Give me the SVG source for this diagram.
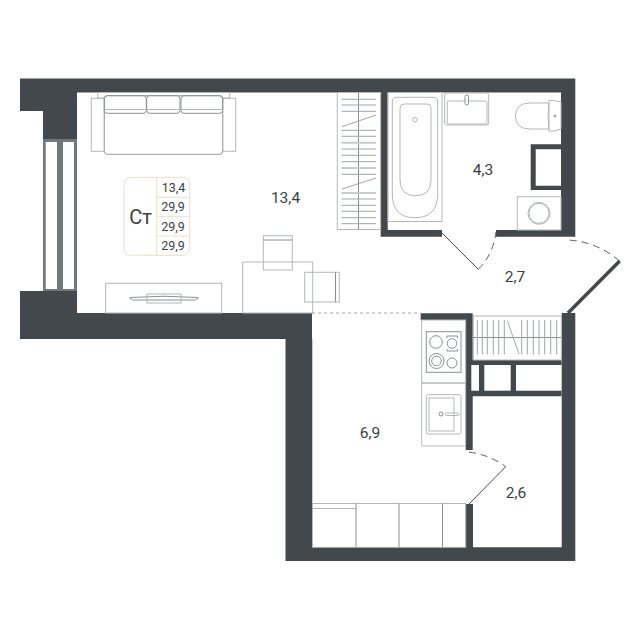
<svg xmlns="http://www.w3.org/2000/svg" width="640" height="640" viewBox="0 0 640 640">
<style>
.wall{fill:#43484c}
.f{fill:none;stroke:#b4b7b9;stroke-width:1}
.g{fill:none;stroke:#8b9094;stroke-width:1}
.d{fill:none;stroke:#4a4f53;stroke-width:1}
.ds{fill:none;stroke:#5a5f63;stroke-width:1;stroke-dasharray:7 5}
.ln{fill:none;stroke:#a2a6a9;stroke-width:1}
.lt{fill:none;stroke:#c9cccd;stroke-width:2}
.c{fill:none;stroke:#efdcc9;stroke-width:1}
text{font-family:"Roboto","Liberation Sans",sans-serif;fill:#3a3f43;text-anchor:middle}
.r{font-size:15.5px}
.s{font-size:12.5px}
</style>
<rect width="640" height="640" fill="#fff"/>
<g id="walls">
<path class="wall" fill-rule="evenodd" d="M20 78.5H575.3V236.7H496V230H561V92.5H387.7V230H442V236.7H380.7V92.5H77V313H312V339H312.3V547.3H465.7V504H473V547.3H561.7V313H575.3V561H285.5V339H20V291H43V139H43V111H20Z"/>
<path class="wall" d="M530.7 144.3H561V149.3H535.7V185.7H561V190H530.7Z"/>
<path class="wall" d="M420.7 313.3H472.7V360H561.5V396.3H472.7V450H465.7V320H420.7Z"/>
<rect x="471.3" y="365" width="7.7" height="25.7" fill="#fff"/>
<rect x="484.3" y="365" width="26.4" height="25.7" fill="#fff"/>
<rect x="516" y="365" width="45.5" height="25.7" fill="#fff"/>
<rect x="43" y="139" width="34" height="152" fill="#6f787c"/>
<rect x="45.7" y="142" width="11.3" height="147" fill="#fff"/>
<rect x="63" y="142" width="11" height="147" fill="#fff"/>
</g>
<g id="sofa">
<rect class="f" x="97.7" y="92.5" width="132" height="5.5"/>
<rect class="f" x="91.3" y="98.3" width="13" height="53"/>
<rect class="f" x="222.7" y="98.3" width="13" height="53"/>
<rect x="104.3" y="95.7" width="118.4" height="58.6" rx="3" fill="#fff" stroke="#9a9ea1"/>
<rect class="g" x="104.3" y="95.7" width="42" height="17.6" rx="3"/>
<rect class="g" x="146.7" y="95.7" width="33.3" height="17.6" rx="3"/>
<rect class="g" x="181" y="95.7" width="41.7" height="17.6" rx="3"/>
<path class="f" d="M104.3 109.5H222.7"/>
</g>
<g id="area-table">
<rect class="c" x="124" y="177.3" width="65.7" height="78" rx="7"/>
<path class="c" d="M156.7 177.3V255.3M156.7 197.3H189.7M156.7 216.3H189.7M156.7 236H189.7"/>
<text x="140.5" y="224" font-size="20">Ст</text>
<text class="s" x="173.5" y="191.5">13,4</text>
<text class="s" x="173" y="210.5">29,9</text>
<text class="s" x="173" y="230.5">29,9</text>
<text class="s" x="173" y="249.5">29,9</text>
</g>
<g id="tv">
<rect class="f" x="105.7" y="283.3" width="116" height="29.7"/>
<path class="g" d="M130 297.5Q164 295 198 297.5Q198 299 195 300H133Q130 299 130 297.5Z"/>
<rect class="f" x="147" y="294" width="34" height="9"/>
</g>
<g id="desk">
<rect class="f" x="242.7" y="262" width="70" height="51"/>
<rect class="f" x="263.3" y="235.7" width="29" height="34.3"/>
<path class="g" d="M263.3 240H292.3"/>
<rect class="f" x="304.7" y="272.3" width="34.6" height="29.7"/>
<path class="g" d="M335.5 272.3V302"/>
</g>
<g id="closet-upper">
<rect class="f" x="337.3" y="92.5" width="43.4" height="137"/>
<path class="g" d="M358.5 92.5V229.5"/>
<path class="ln" d="M341.5 99.3H376M341.5 105H376M341.5 111.3H376M342 126.7L376 115M341.5 130.3H376M341.5 136.3H376M341.5 149H376M341.5 155.3H376M341.5 161.7H376M341.5 174.3H376M342 189L376 178M341.5 199H376M341.5 205.3H376M341.5 211.3H376M341.5 217.7H376M341.5 223.7H376"/>
<path class="lt" d="M341.5 142.7H376M341.5 168H376M341.5 193H376"/>
</g>
<g id="bath">
<rect class="f" x="388" y="92.5" width="54" height="129"/>
<path class="f" d="M397 97.3H433Q437.7 97.3 437.7 102V194Q437.7 217.7 415 217.7Q392.3 217.7 392.3 194V102Q392.3 97.3 397 97.3Z"/>
<path class="f" d="M404 104H427Q431 104 431 108V180Q431 195.7 415.5 195.7Q400 195.7 400 180V108Q400 104 404 104Z"/>
<circle class="f" cx="415" cy="119.7" r="2.3"/>
</g>
<g id="sink">
<rect class="f" x="444.7" y="93" width="44" height="32" rx="2"/>
<rect class="f" x="447.3" y="101" width="39.7" height="23" rx="1"/>
<rect x="465" y="95" width="3.5" height="10" rx="1.7" fill="#fff" stroke="#8b9094"/>
</g>
<g id="toilet">
<path class="f" d="M549 103H530Q515.5 103 515.5 116Q515.5 129 530 129H549Z"/>
<path class="f" d="M549 100.5Q552 100 561 102V129Q552 132 549 131Q547 116 549 100.5Z"/>
<circle class="g" cx="555" cy="116" r="1"/>
</g>
<g id="washer">
<rect class="f" x="517.3" y="196.7" width="43.7" height="33.3"/>
<circle class="f" cx="539" cy="213.3" r="11"/>
<circle class="f" cx="539" cy="213.3" r="10"/>
</g>
<g id="closet-lower">
<rect class="f" x="473.3" y="316" width="88" height="44"/>
<path class="g" d="M473.3 337.5H561"/>
<path class="ln" d="M477.3 320V354.5M482.3 320V354.5M487.3 320V354.5M493.3 320V354.5M498.7 320V354.5M504.3 320V354.5M507.3 320.7L519 354.3M521.7 320V354.5M527.3 320V354.5M533.3 320V354.5M539 320V354.5M544.7 320V354.5M550.7 320V354.5M556.7 320V354.5"/>
</g>
<g id="stove">
<rect class="f" x="421.7" y="320" width="44" height="63"/>
<rect class="g" x="426.3" y="331.7" width="34.7" height="40.6"/>
<circle class="g" cx="436" cy="342" r="6.3"/>
<circle class="g" cx="452" cy="343.5" r="4.8"/>
<path class="g" d="M447 336H457.5M447 351H457.5M447 336V338M457.5 336V338M447 351V349M457.5 351V349"/>
<circle class="g" cx="436.5" cy="361" r="7.5"/>
<circle class="g" cx="436.5" cy="361" r="4.8"/>
<circle class="g" cx="452" cy="363" r="5"/>
</g>
<g id="kitchen-sink">
<rect class="f" x="421.7" y="383" width="44" height="63" rx="1"/>
<rect class="f" x="426.3" y="394.7" width="34.7" height="39.3" rx="2"/>
<rect class="f" x="429" y="398" width="25" height="33"/>
<circle class="g" cx="441" cy="414" r="2"/>
<rect class="f" x="445.5" y="413" width="13.5" height="2.5" rx="1.2"/>
</g>
<g id="storage">
<rect class="f" x="312.5" y="503.5" width="153.2" height="43.8"/>
<path class="g" d="M356 503.5V547.3M399 503.5V547.3M442.5 503.5V547.3"/>
<path class="f" d="M312.5 508.5H356"/>
</g>
<g id="connectors">
<path class="d" d="M442 233L478.3 269.3"/>
<path class="ds" d="M478.3 269.3Q493 255 496 232"/>
<path fill="none" stroke="#43484c" stroke-width="3.5" d="M568 313L619.7 261"/>
<path class="ds" d="M619.7 261Q596 241 566.7 240"/>
<path class="d" d="M505.7 466.7L469 504"/>
<path class="ds" d="M469 452Q490 455 505.7 466.7"/>
<path fill="none" stroke="#a2a6a9" stroke-dasharray="3 3" d="M312 313H421"/>
</g>
<g id="labels">
<text class="r" x="285.5" y="203">13,4</text>
<text class="r" x="483" y="174.5">4,3</text>
<text class="r" x="515" y="282">2,7</text>
<text class="r" x="370" y="438">6,9</text>
<text class="r" x="516" y="498">2,6</text>
</g>
</svg>
